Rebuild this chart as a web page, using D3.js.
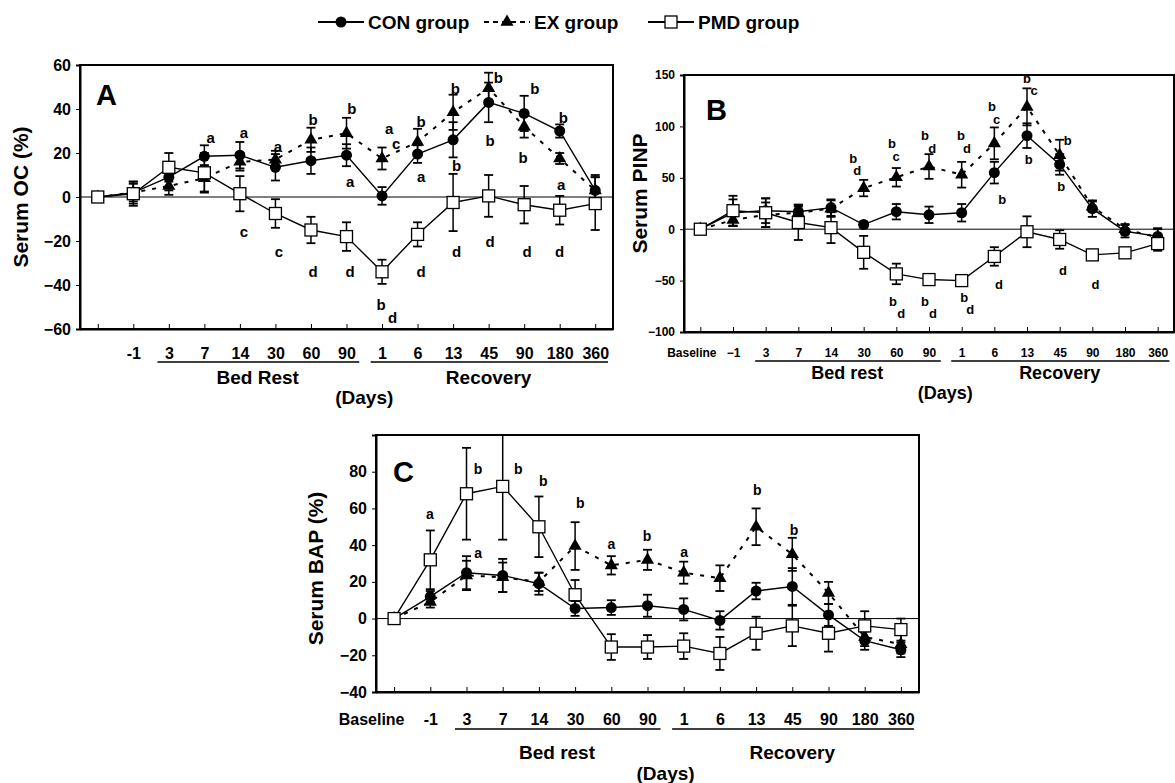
<!DOCTYPE html>
<html>
<head>
<meta charset="utf-8">
<script src="https://cdn.jsdelivr.net/npm/d3@7"></script>
<style>
body { margin: 0; background: #fff; }
text { font-family: "Liberation Sans", Arial, sans-serif; font-weight: bold; fill: #000; }
</style>
</head>
<body>
<script>
// x categories (index is the key, "90" appears twice)
const daysA = ["", "-1", "3", "7", "14", "30", "60", "90", "1", "6", "13", "45", "90", "180", "360"];
const daysB = ["Baseline", "\u22121", "3", "7", "14", "30", "60", "90", "1", "6", "13", "45", "90", "180", "360"];
const daysC = ["Baseline", "-1", "3", "7", "14", "30", "60", "90", "1", "6", "13", "45", "90", "180", "360"];

// Panel A - serum OC (%)
const ocCon    = [0, 2, 9, 18.5, 19, 13.5, 16.5, 19, 0.5, 19.5, 26, 43, 38, 30, 3];
const ocConErr = [0, 5, 6, 5, 6, 6, 6, 5, 4, 4, 8, 9, 8, 3, 7];
const ocEx     = [0, 2, 5, 8.5, 16, 17, 26, 29, 17.5, 25, 38.5, 49.5, 32, 17.5, 3];
const ocExErr  = [0, 4, 4, 6, 4, 4, 5.5, 7, 5, 6, 8, 7, 5, 2.5, 6];
const ocPmd    = [0, 1.5, 13.5, 11, 1.5, -7.5, -15, -18, -34, -17, -2.5, 0.5, -3.5, -6, -3];
const ocPmdErr = [0, 5.5, 6.5, 9, 8, 6.5, 6, 6.5, 5.5, 5.5, 13, 9.5, 8.5, 6.5, 12];
const ocNotes = [[3.18, 27, "a"], [4.11, 29, "a"], [5.07, 23, "a"], [6.06, 35, "b"], [7.15, 40, "b"],
  [7.1, 7, "a"], [8.2, 31, "a"], [8.4, 24, "c"], [9.1, 34, "b"], [9.1, 9, "a"], [10.06, 49, "b"],
  [10.1, 14, "b"], [11.27, 54, "b"], [11.04, 25.5, "b"], [12.3, 49, "b"], [11.97, 18, "b"],
  [13.1, 36, "b"], [13.04, 5.5, "a"], [4.11, -16, "c"], [5.1, -25, "c"], [6.06, -34, "d"],
  [7.1, -34, "d"], [7.97, -49, "b"], [8.3, -55, "d"], [9.1, -34, "d"], [10.1, -25, "d"],
  [11.04, -20.5, "d"], [12.08, -25, "d"], [13.0, -25, "d"]];

// Panel B - serum PINP
const pinpCon    = [0, 16, 18, 17, 21, 4.5, 17, 14, 16, 55, 91, 63, 20, -2, -7];
const pinpConErr = [0, 13, 12, 7, 8, 3, 7.5, 8, 8.5, 10.5, 12, 10, 8, 6, 8];
const pinpEx     = [0, 9, 14, 16, 20, 40, 50.5, 61, 53, 83.5, 119, 72, 22, 0, -8];
const pinpExErr  = [0, 6, 12, 6, 8, 8, 9, 12, 12.5, 15.5, 18, 15, 5, 5, 8];
const pinpPmd    = [0, 18, 16, 6.5, 1.5, -22.5, -43.5, -49, -50, -26.5, -2.5, -10, -25, -23, -14];
const pinpPmdErr = [0, 14.5, 14, 17, 15, 16, 10, 4, 5, 9, 15, 9, 5, 3, 7];
const pinpNotes = [[4.68, 69, "b"], [4.8, 57, "d"], [5.87, 83, "b"], [5.99, 71, "c"],
  [6.88, 91, "b"], [7.1, 79, "d"], [7.98, 91, "b"], [8.16, 79, "d"], [8.93, 119, "b"],
  [9.07, 107, "c"], [9.24, 28.5, "b"], [10.0, 147, "b"], [10.22, 135, "c"], [10.05, 68, "b"],
  [11.25, 86, "b"], [11.05, 42, "b"], [5.9, -70, "b"], [6.15, -82, "d"], [6.88, -70, "b"],
  [7.12, -82, "d"], [8.08, -66, "b"], [8.26, -78, "d"], [9.14, -54, "d"], [11.1, -40, "d"],
  [12.1, -54, "d"]];

// Panel C - serum BAP (%)
const bapCon    = [0, 12, 25, 23.5, 19, 5.5, 6, 7, 5, -1, 15, 17.5, 2, -12, -17];
const bapConErr = [0, 3, 9, 9, 6, 4, 4, 6, 6, 5, 4.5, 10, 6, 5, 4];
const bapEx     = [0, 9, 23.5, 22.5, 20, 39.5, 29, 32, 25, 22, 50, 35, 14, -10, -14];
const bapExErr  = [0, 3, 8, 8, 5, 13, 5, 5.5, 6, 7, 10, 9, 6, 5, 5];
const bapPmd    = [0, 32, 68, 72, 50, 13, -15.5, -15.5, -15, -19, -8, -4, -8, -4, -6];
const bapPmdErr = [0, 16, 25, 29, 16.5, 8, 7, 6.5, 7, 9, 9, 11, 10, 8, 6];
const bapNotes = [[0.99, 56.7, "a"], [2.32, 81.4, "b"], [2.32, 35.7, "a"], [3.43, 81.4, "b"],
  [4.12, 75, "b"], [5.14, 62.7, "b"], [6.0, 40.8, "a"], [6.99, 44.8, "b"], [8.01, 36, "a"],
  [10.03, 70, "b"], [11.05, 48, "b"]];

const svg = d3.select("body").append("svg")
  .attr("width", 1175)
  .attr("height", 783);

// Legend
const legend = svg.append("g");
const legendItems = [
  { name: "CON group", kind: "con", x: 318 },
  { name: "EX group", kind: "ex", x: 484 },
  { name: "PMD group", kind: "pmd", x: 648 }
];
legendItems.forEach(item => {
  legend.append("line")
    .attr("x1", item.x).attr("x2", item.x + 46)
    .attr("y1", 22).attr("y2", 22)
    .attr("stroke", "#000").attr("stroke-width", 1.8)
    .attr("stroke-dasharray", item.kind === "ex" ? "5,4" : null);
  drawMarker(legend, item.kind, item.x + 23, 22);
  legend.append("text")
    .attr("x", item.x + 50).attr("y", 29)
    .style("font-size", "19px")
    .text(item.name);
});

function drawMarker(g, kind, cx, cy) {
  if (kind === "con") {
    g.append("circle").attr("cx", cx).attr("cy", cy).attr("r", 5.5).attr("fill", "#000");
  } else if (kind === "ex") {
    g.append("path")
      .attr("d", d3.symbol(d3.symbolTriangle, 75)())
      .attr("transform", `translate(${cx},${cy})`)
      .attr("fill", "#000");
  } else {
    g.append("rect")
      .attr("x", cx - 6).attr("y", cy - 6)
      .attr("width", 12).attr("height", 12)
      .attr("fill", "#fff").attr("stroke", "#000").attr("stroke-width", 1.3);
  }
}

function drawPanel(p) {
  const g = svg.append("g");
  const x = d3.scaleLinear().domain([-0.5, 14.5]).range([p.left, p.right]);
  const y = d3.scaleLinear().domain(p.yDomain).range([p.bottom, p.top]);
  const step = x(1) - x(0);

  const clipId = "clip" + p.letter;
  svg.append("clipPath").attr("id", clipId)
    .append("rect")
    .attr("x", p.left).attr("y", p.top)
    .attr("width", p.right - p.left).attr("height", p.bottom - p.top);

  // frame
  g.append("rect")
    .attr("x", p.left).attr("y", p.top)
    .attr("width", p.right - p.left).attr("height", p.bottom - p.top)
    .attr("fill", "none").attr("stroke", "#000").attr("stroke-width", 2);

  // zero line
  g.append("line")
    .attr("x1", p.left).attr("x2", p.right)
    .attr("y1", y(0)).attr("y2", y(0))
    .attr("stroke", "#000").attr("stroke-width", 1);

  // y axis
  const yAxis = g.append("g")
    .attr("transform", `translate(${p.left},0)`)
    .call(d3.axisLeft(y).tickValues(p.yTicks).tickSize(4).tickPadding(5));
  yAxis.select(".domain").attr("stroke-width", 2);
  yAxis.selectAll("text").style("font-size", p.yFont + "px").attr("font-family", null);

  // x axis, inward ticks
  const xAxis = g.append("g")
    .attr("transform", `translate(0,${p.bottom})`)
    .call(d3.axisBottom(x).tickValues(d3.range(15))
      .tickSizeInner(-5).tickSizeOuter(0)
      .tickFormat(i => p.days[i]));
  xAxis.select(".domain").attr("stroke-width", 2);
  xAxis.selectAll("text")
    .attr("y", p.xLabelDy).attr("dy", "0.35em")
    .attr("dx", i => i === 0 ? p.baseDx : 0)
    .style("font-size", p.xFont + "px").attr("font-family", null);

  // phase underlines and titles
  const phases = [
    { name: p.restName, from: 2, to: 7 },
    { name: "Recovery", from: 8, to: 14 }
  ];
  phases.forEach(ph => {
    g.append("line")
      .attr("x1", x(ph.from) - 0.32 * step).attr("x2", x(ph.to) + 0.36 * step)
      .attr("y1", p.bottom + p.lineDy).attr("y2", p.bottom + p.lineDy)
      .attr("stroke", "#000").attr("stroke-width", 1.5);
    g.append("text")
      .attr("x", (x(ph.from) + x(ph.to)) / 2)
      .attr("y", p.bottom + p.phaseDy).attr("dy", "0.35em")
      .attr("text-anchor", "middle")
      .style("font-size", p.phaseFont + "px")
      .text(ph.name);
  });
  g.append("text")
    .attr("x", (x(7) + x(8)) / 2)
    .attr("y", p.bottom + p.daysDy).attr("dy", "0.35em")
    .attr("text-anchor", "middle")
    .style("font-size", p.phaseFont + "px")
    .text("(Days)");

  // y label
  g.append("text")
    .attr("transform", `translate(${p.yLabelX},${(p.top + p.bottom) / 2 + p.yLabelDy}) rotate(-90)`)
    .attr("text-anchor", "middle").attr("dy", "0.35em")
    .style("font-size", "21px")
    .text(p.yLabel);

  // panel letter
  g.append("text")
    .attr("x", p.left + p.letterDx).attr("y", p.top + p.letterDy)
    .style("font-size", "29px")
    .text(p.letter);

  const plot = g.append("g").attr("clip-path", `url(#${clipId})`);

  p.series.forEach(s => {
    // error bars
    s.values.forEach((v, i) => {
      const e = s.errors[i];
      if (!e) return;
      plot.append("line")
        .attr("x1", x(i)).attr("x2", x(i))
        .attr("y1", y(v - e)).attr("y2", y(v + e))
        .attr("stroke", "#000").attr("stroke-width", 1.5);
      [v - e, v + e].forEach(t => {
        plot.append("line")
          .attr("x1", x(i) - 4.5).attr("x2", x(i) + 4.5)
          .attr("y1", y(t)).attr("y2", y(t))
          .attr("stroke", "#000").attr("stroke-width", 1.8);
      });
    });
    const line = d3.line()
      .x((d, i) => x(i))
      .y(d => y(d));
    plot.append("path")
      .datum(s.values)
      .attr("d", line)
      .attr("fill", "none")
      .attr("stroke", "#000")
      .attr("stroke-width", s.kind === "ex" ? 2 : 1.4)
      .attr("stroke-dasharray", s.kind === "ex" ? "4,7" : null);
  });
  p.series.forEach(s => {
    s.values.forEach((v, i) => drawMarker(plot, s.kind, x(i), y(v)));
  });

  // significance letters
  p.notes.forEach(n => {
    g.append("text")
      .attr("x", x(n[0])).attr("y", y(n[1]))
      .attr("dy", "0.35em")
      .attr("text-anchor", "middle")
      .style("font-size", p.noteFont + "px")
      .text(n[2]);
  });
}

drawPanel({
  letter: "A", left: 80, right: 613, top: 65, bottom: 329,
  yDomain: [-60, 60], yTicks: d3.range(-60, 61, 20), yFont: 16,
  days: daysA, xFont: 16, xLabelDy: 24, baseDx: 0,
  restName: "Bed Rest", lineDy: 33, phaseDy: 48, daysDy: 68, phaseFont: 19,
  yLabel: "Serum OC (%)", yLabelX: 21, yLabelDy: 0,
  letterDx: 16, letterDy: 40, noteFont: 15,
  notes: ocNotes,
  series: [
    { kind: "ex", values: ocEx, errors: ocExErr },
    { kind: "con", values: ocCon, errors: ocConErr },
    { kind: "pmd", values: ocPmd, errors: ocPmdErr }
  ]
});

drawPanel({
  letter: "B", left: 684, right: 1174, top: 75, bottom: 332,
  yDomain: [-100, 150], yTicks: d3.range(-100, 151, 50), yFont: 12,
  days: daysB, xFont: 12, xLabelDy: 21, baseDx: -9,
  restName: "Bed rest", lineDy: 29, phaseDy: 41, daysDy: 61, phaseFont: 18,
  yLabel: "Serum PINP", yLabelX: 640, yLabelDy: -10,
  letterDx: 22, letterDy: 45, noteFont: 13,
  notes: pinpNotes,
  series: [
    { kind: "ex", values: pinpEx, errors: pinpExErr },
    { kind: "con", values: pinpCon, errors: pinpConErr },
    { kind: "pmd", values: pinpPmd, errors: pinpPmdErr }
  ]
});

drawPanel({
  letter: "C", left: 376, right: 919, top: 435, bottom: 692,
  yDomain: [-40, 100], yTicks: d3.range(-40, 81, 20), yFont: 16,
  days: daysC, xFont: 16, xLabelDy: 27, baseDx: -23,
  restName: "Bed rest", lineDy: 37, phaseDy: 60, daysDy: 81, phaseFont: 19,
  yLabel: "Serum BAP (%)", yLabelX: 316, yLabelDy: 5,
  letterDx: 17, letterDy: 47, noteFont: 14,
  notes: bapNotes,
  series: [
    { kind: "ex", values: bapEx, errors: bapExErr },
    { kind: "con", values: bapCon, errors: bapConErr },
    { kind: "pmd", values: bapPmd, errors: bapPmdErr }
  ]
});
</script>
</body>
</html>
